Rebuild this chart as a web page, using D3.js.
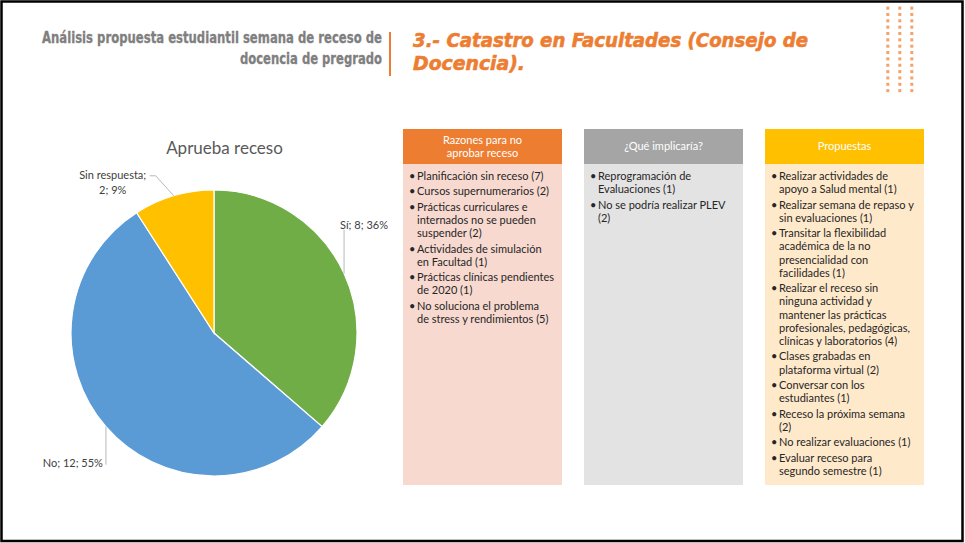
<!DOCTYPE html>
<html>
<head>
<meta charset="utf-8">
<script src="https://cdn.jsdelivr.net/npm/d3@7"></script>
<style>
  body { margin: 0; background: #fff; }
  svg { display: block; }
</style>
</head>
<body>
<div id="chart"></div>
<script>
// datos del grafico de torta
var pieTitle = "Aprueba receso";
var pieCategories = ["Sí", "No", "Sin respuesta"];
var pieValues = [8, 12, 2];

// textos de los cuadros
var boxTitles = [["Razones para no", "aprobar receso"], ["¿Qué implicaría?"], ["Propuestas"]];
var reasons = [
  ["Planificación sin receso (7)"],
  ["Cursos supernumerarios (2)"],
  ["Prácticas curriculares e", "internados no se pueden", "suspender (2)"],
  ["Actividades de simulación", "en Facultad (1)"],
  ["Prácticas clínicas pendientes", "de 2020 (1)"],
  ["No soluciona el problema", "de stress y rendimientos (5)"]
];
var implications = [
  ["Reprogramación de", "Evaluaciones (1)"],
  ["No se podría realizar PLEV", "(2)"]
];
var proposals = [
  ["Realizar actividades de", "apoyo a Salud mental (1)"],
  ["Realizar semana de repaso y", "sin evaluaciones (1)"],
  ["Transitar la flexibilidad", "académica de la no", "presencialidad con", "facilidades (1)"],
  ["Realizar el receso sin", "ninguna actividad y", "mantener las prácticas", "profesionales, pedagógicas,", "clínicas y laboratorios (4)"],
  ["Clases grabadas en", "plataforma virtual (2)"],
  ["Conversar con los", "estudiantes (1)"],
  ["Receso la próxima semana", "(2)"],
  ["No realizar evaluaciones (1)"],
  ["Evaluar receso para", "segundo semestre (1)"]
];

var width = 965, height = 543;
var font = "Lato, 'Open Sans', sans-serif";

var svg = d3.select("#chart").append("svg")
    .attr("width", width)
    .attr("height", height);

svg.append("rect")
    .attr("width", width).attr("height", height)
    .attr("fill", "#fff");

// marco
svg.append("rect")
    .attr("x", 1.5).attr("y", 1.5)
    .attr("width", 961).attr("height", 539.5)
    .attr("fill", "none")
    .attr("stroke", "#000")
    .attr("stroke-width", 2.5);

// titulo izquierdo
var leftTitle = svg.append("g")
    .attr("font-family", "'Liberation Sans Narrow', 'DejaVu Sans Condensed', sans-serif")
    .attr("font-weight", "bold")
    .attr("font-size", 15)
    .attr("fill", "#7f7f7f")
    .attr("stroke", "#7f7f7f")
    .attr("stroke-width", 0.3)
    .attr("text-anchor", "end");
leftTitle.append("text").attr("x", 382).attr("y", 42.5)
    .attr("textLength", 340).attr("lengthAdjust", "spacingAndGlyphs")
    .text("Análisis propuesta estudiantil semana de receso de");
leftTitle.append("text").attr("x", 382).attr("y", 64)
    .attr("textLength", 142).attr("lengthAdjust", "spacingAndGlyphs")
    .text("docencia de pregrado");

svg.append("line")
    .attr("x1", 390).attr("x2", 390)
    .attr("y1", 32).attr("y2", 76)
    .attr("stroke", "#ed7d31").attr("stroke-width", 2);

// titulo derecho
var rightTitle = svg.append("g")
    .attr("font-family", "'DejaVu Sans', sans-serif")
    .attr("font-weight", "bold")
    .attr("font-style", "italic")
    .attr("font-size", 19)
    .attr("fill", "#ed7d31")
    .attr("stroke", "#ed7d31")
    .attr("stroke-width", 0.6);
rightTitle.append("text").attr("x", 413).attr("y", 47)
    .attr("textLength", 395).attr("lengthAdjust", "spacingAndGlyphs")
    .text("3.- Catastro en Facultades (Consejo de");
rightTitle.append("text").attr("x", 413).attr("y", 70)
    .attr("textLength", 112).attr("lengthAdjust", "spacingAndGlyphs")
    .text("Docencia).");

// puntos decorativos
var dotCols = d3.range(3), dotRows = d3.range(14);
svg.append("g").selectAll("rect")
    .data(d3.cross(dotCols, dotRows))
    .enter().append("rect")
    .attr("x", function(d) { return 886.3 + d[0] * 12; })
    .attr("y", function(d) { return 6.6 + d[1] * 6.35; })
    .attr("width", 3).attr("height", 3)
    .attr("fill", "#f4a26a");

// grafico de torta
var cx = 214, cy = 333, radius = 143;
var color = d3.scaleOrdinal()
    .domain(pieCategories)
    .range(["#70ad47", "#5b9bd5", "#ffc000"]);

var pieData = pieCategories.map(function(c, i) { return {name: c, value: pieValues[i]}; });
var total = d3.sum(pieValues);
var pie = d3.pie().sort(null).value(function(d) { return d.value; });
var arc = d3.arc().innerRadius(0).outerRadius(radius);
var edge = d3.arc().innerRadius(radius).outerRadius(radius);

var pieG = svg.append("g").attr("transform", "translate(" + cx + "," + cy + ")");
var arcs = pie(pieData);

pieG.selectAll("path")
    .data(arcs)
    .enter().append("path")
    .attr("d", arc)
    .attr("fill", function(d) { return color(d.data.name); })
    .attr("stroke", "#fff")
    .attr("stroke-width", 1.2);

svg.append("text")
    .attr("x", 224.5).attr("y", 153.5)
    .attr("text-anchor", "middle")
    .attr("font-family", font)
    .attr("font-size", 17)
    .attr("fill", "#595959")
    .text(pieTitle);

// etiquetas con lineas guia (posicion relativa al punto del borde)
var labelPlace = {
  "Sí": {line: [[0, -44]], anchor: "start", dx: -4, dy: -48, split: false},
  "No": {line: [[0, 38]], anchor: "end", dx: -3, dy: 37, split: false},
  "Sin respuesta": {line: [[-18, -20], [-24, -20]], anchor: "middle", dx: -61, dy: -20, split: true}
};

var labels = svg.append("g")
    .attr("font-family", font)
    .attr("font-size", 11)
    .attr("fill", "#404040");

arcs.forEach(function(d) {
  var p = edge.centroid(d);
  var px = cx + p[0], py = cy + p[1];
  var place = labelPlace[d.data.name];
  var pts = [[px, py]].concat(place.line.map(function(o) { return [px + o[0], py + o[1]]; }));
  labels.append("path")
      .attr("d", d3.line()(pts))
      .attr("fill", "none")
      .attr("stroke", "#a6a6a6")
      .attr("stroke-width", 0.8);
  var pct = Math.round(d.data.value / total * 100) + "%";
  var t = labels.append("text")
      .attr("text-anchor", place.anchor)
      .attr("x", px + place.dx)
      .attr("y", py + place.dy);
  if (place.split) {
    t.attr("y", py + place.dy + 3.5);
    t.append("tspan").attr("x", px + place.dx).text(d.data.name + ";");
    t.append("tspan").attr("x", px + place.dx).attr("dy", 14.5).text(d.data.value + "; " + pct);
  } else {
    t.attr("y", py + place.dy + 3.5).text(d.data.name + "; " + d.data.value + "; " + pct);
  }
});

// cuadros de texto
var boxes = [
  {items: reasons, head: "#ed7d31", body: "#f8d9d0", x: 403},
  {items: implications, head: "#a5a5a5", body: "#e3e3e3", x: 584},
  {items: proposals, head: "#ffc000", body: "#ffe9cb", x: 765}
];
var boxW = 159, boxTop = 129, headH = 35, boxBottom = 485;
var lineH = 13.2, itemGap = 2.2;

boxes.forEach(function(b, i) {
  var g = svg.append("g").attr("font-family", font);
  g.append("rect")
      .attr("x", b.x).attr("y", boxTop + headH)
      .attr("width", boxW).attr("height", boxBottom - boxTop - headH)
      .attr("fill", b.body);
  g.append("rect")
      .attr("x", b.x).attr("y", boxTop)
      .attr("width", boxW).attr("height", headH)
      .attr("fill", b.head);

  var title = boxTitles[i];
  var ht = g.append("text")
      .attr("text-anchor", "middle")
      .attr("font-size", 11)
      .attr("fill", "#fff");
  var startY = boxTop + headH / 2 + 3.8 - (title.length - 1) * 13 / 2;
  title.forEach(function(line, k) {
    ht.append("tspan")
        .attr("x", b.x + boxW / 2)
        .attr("y", startY + k * 13)
        .text(line);
  });

  var y = 180;
  b.items.forEach(function(item) {
    g.append("text")
        .attr("x", b.x + 6).attr("y", y)
        .attr("font-size", 11)
        .attr("fill", "#262626")
        .text("•");
    item.forEach(function(line, k) {
      g.append("text")
          .attr("x", b.x + 14).attr("y", y + k * lineH)
          .attr("font-size", 11)
          .attr("fill", "#262626")
          .text(line);
    });
    y += item.length * lineH + itemGap;
  });
});
</script>
</body>
</html>
